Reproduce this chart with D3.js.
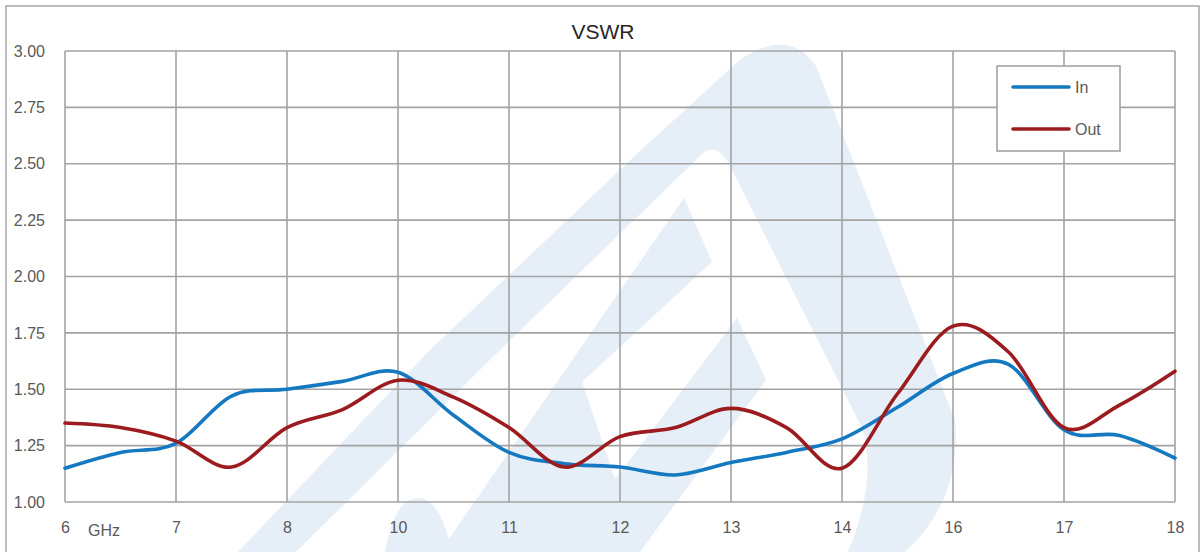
<!DOCTYPE html>
<html>
<head>
<meta charset="utf-8">
<script src="https://cdn.jsdelivr.net/npm/d3@7/dist/d3.min.js"></script>
<style>
  html, body { margin: 0; padding: 0; background: #fff; }
  svg { display: block; }
</style>
</head>
<body>
<svg id="chart" width="1202" height="552"></svg>
<script>
// ---- data ----
const title = "VSWR";
const categories = ["6", "7", "8", "10", "11", "12", "13", "14", "16", "17", "18"];
const unitLabel = "GHz";
// sample positions (category index, half steps)
const positions = [0, 0.5, 1, 1.5, 2, 2.5, 3, 3.5, 4, 4.5, 5, 5.5, 6, 6.5, 7, 7.5, 8, 8.5, 9, 9.5, 10];
const inValues  = [1.15, 1.22, 1.26, 1.47, 1.50, 1.535, 1.575, 1.385, 1.22, 1.17, 1.155, 1.12, 1.175, 1.22, 1.28, 1.42, 1.57, 1.61, 1.32, 1.295, 1.195];
const outValues = [1.35, 1.33, 1.27, 1.155, 1.33, 1.41, 1.54, 1.465, 1.33, 1.155, 1.29, 1.33, 1.415, 1.33, 1.15, 1.48, 1.78, 1.665, 1.33, 1.43, 1.58];
const yTicks = [1.00, 1.25, 1.50, 1.75, 2.00, 2.25, 2.50, 2.75, 3.00];
const seriesNames = ["In", "Out"];

// ---- layout / style ----
const W = 1202, H = 552;
const M = { left: 65, right: 1175, top: 51, bottom: 502 };
const gridColor = "#a3a3a3";
const textColor = "#595959";
const colors = { In: "#1479c1", Out: "#9b1b1f" };
const font = "'Liberation Sans', Arial, sans-serif";

const svg = d3.select("#chart");

// outer frame
svg.append("rect").attr("x", 6).attr("y", 6).attr("width", 1193).attr("height", 560)
  .attr("fill", "#fff").attr("stroke", "#a6a6a6").attr("stroke-width", 1.5);

// watermark (decorative background logo)
const wm = svg.append("g").attr("fill", "#e6eef7");
wm.append("path").attr("d", "M238,552 L430,350 L641,150 L742,58 Q790,28 816,66 L955,420 Q962,500 905,552 L848,552 Q878,480 862,428 L728,162 Q712,138 696,160 L500,350 L296,552 Z");
wm.append("path").attr("d", "M440,552 L684,198 L712,262 L582,382 L640,552 Z");
wm.append("path").attr("d", "M560,552 L737,318 L766,380 L640,552 Z");
wm.append("path").attr("d", "M385,552 Q395,498 418,498 Q440,498 452,552 Z");

const x = d3.scaleLinear().domain([0, categories.length - 1]).range([M.left, M.right]);
const y = d3.scaleLinear().domain([1, 3]).range([M.bottom, M.top]);

// grid
const grid = svg.append("g").attr("stroke", gridColor).attr("stroke-width", 1.6);
grid.selectAll("line.h").data(yTicks).join("line")
  .attr("x1", M.left).attr("x2", M.right)
  .attr("y1", d => y(d)).attr("y2", d => y(d));
grid.selectAll("line.v").data(d3.range(categories.length)).join("line")
  .attr("y1", M.top).attr("y2", M.bottom)
  .attr("x1", d => x(d)).attr("x2", d => x(d));

// y axis
const yAxis = d3.axisLeft(y).tickValues(yTicks).tickFormat(d3.format(".2f")).tickSize(0).tickPadding(20);
const gy = svg.append("g").attr("transform", `translate(${M.left},0)`).call(yAxis);
gy.select(".domain").remove();
gy.selectAll("text").attr("fill", textColor).style("font-family", font).style("font-size", "16px");

// x axis
const xAxis = d3.axisBottom(x).tickValues(d3.range(categories.length)).tickFormat(i => categories[i]).tickSize(0).tickPadding(20);
const gx = svg.append("g").attr("transform", `translate(0,${M.bottom})`).call(xAxis);
gx.select(".domain").remove();
gx.selectAll("text").attr("fill", textColor).style("font-family", font).style("font-size", "16px");

svg.append("text").attr("x", 88).attr("y", 536).text(unitLabel)
  .attr("fill", textColor).style("font-family", font).style("font-size", "16px");

// lines
const line = d3.line().x(d => x(d[0])).y(d => y(d[1])).curve(d3.curveCardinal.tension(0));
const series = [
  { name: "In", values: inValues },
  { name: "Out", values: outValues }
];
svg.append("g").selectAll("path").data(series).join("path")
  .attr("d", s => line(positions.map((p, i) => [p, s.values[i]])))
  .attr("fill", "none")
  .attr("stroke", s => colors[s.name])
  .attr("stroke-width", 3.6)
  .attr("stroke-linejoin", "round")
  .attr("stroke-linecap", "round");

// title
svg.append("text").attr("x", 603).attr("y", 39).attr("text-anchor", "middle").text(title)
  .attr("fill", "#262626").style("font-family", font).style("font-size", "21px");

// legend
const lg = svg.append("g");
lg.append("rect").attr("x", 997).attr("y", 66).attr("width", 123).attr("height", 85)
  .attr("fill", "#fff").attr("stroke", gridColor).attr("stroke-width", 1.6);
const ly = d3.scalePoint().domain(seriesNames).range([87, 129]);
seriesNames.forEach(n => {
  lg.append("line").attr("x1", 1013).attr("x2", 1069).attr("y1", ly(n)).attr("y2", ly(n))
    .attr("stroke", colors[n]).attr("stroke-width", 3.6).attr("stroke-linecap", "round");
  lg.append("text").attr("x", 1075).attr("y", ly(n) + 6).text(n)
    .attr("fill", textColor).style("font-family", font).style("font-size", "16px");
});
</script>
</body>
</html>
